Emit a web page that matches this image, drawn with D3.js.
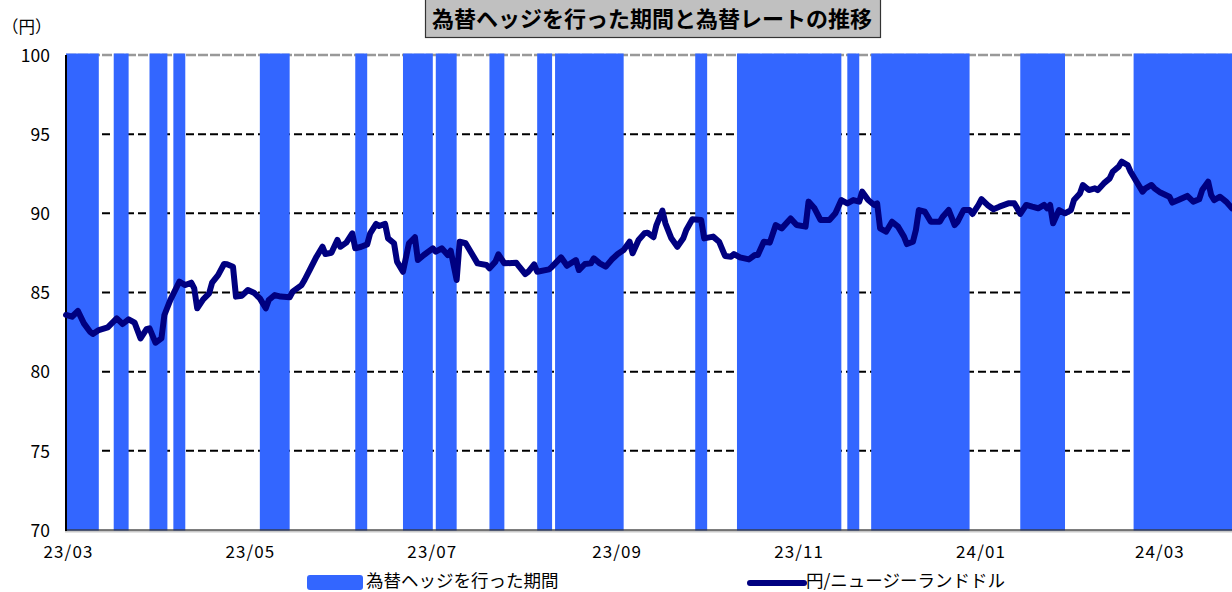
<!DOCTYPE html>
<html>
<head>
<meta charset="utf-8">
<script src="https://cdn.jsdelivr.net/npm/d3@7"></script>
<style>
  html, body { margin: 0; padding: 0; background: #fff; }
  svg { display: block; font-family: "Noto Sans CJK JP", "Noto Sans", sans-serif; }
</style>
</head>
<body>
<svg id="chart" width="1232" height="592"></svg>
<script>
// ---------------- data ----------------
const chartTitle = "為替ヘッジを行った期間と為替レートの推移";
const unitLabel = "（円）";
const hedgeLegend = "為替ヘッジを行った期間";
const rateLegend = "円/ニュージーランドドル";

const yTicks = [70, 75, 80, 85, 90, 95, 100];
const xTickDates = ["2023-03-01", "2023-05-01", "2023-07-01", "2023-09-01", "2023-11-01", "2024-01-01", "2024-03-01"];
const xTickLabels = ["23/03", "23/05", "23/07", "23/09", "23/11", "24/01", "24/03"];

// hedged periods (start / end)
const hedgeStarts = ["2023-03-01", "2023-03-17", "2023-03-29", "2023-04-06", "2023-05-05", "2023-06-06", "2023-06-22", "2023-07-03", "2023-07-21", "2023-08-06", "2023-08-12", "2023-09-28", "2023-10-12", "2023-11-18", "2023-11-26", "2024-01-15", "2024-02-22"];
const hedgeEnds   = ["2023-03-12", "2023-03-22", "2023-04-04", "2023-04-10", "2023-05-15", "2023-06-10", "2023-07-02", "2023-07-10", "2023-07-26", "2023-08-11", "2023-09-04", "2023-10-02", "2023-11-16", "2023-11-22", "2023-12-29", "2024-01-30", "2024-03-26"];

// JPY / NZD rate
const rateDates = [
"2023-03-01","2023-03-03","2023-03-05","2023-03-07","2023-03-09","2023-03-10","2023-03-12","2023-03-15","2023-03-18","2023-03-20",
"2023-03-22","2023-03-24","2023-03-26","2023-03-28","2023-03-29","2023-03-31","2023-04-02","2023-04-03","2023-04-05","2023-04-08",
"2023-04-10","2023-04-12","2023-04-13","2023-04-14","2023-04-16","2023-04-18","2023-04-19","2023-04-21","2023-04-23","2023-04-24",
"2023-04-26","2023-04-27","2023-04-29","2023-05-01","2023-05-03","2023-05-05","2023-05-07","2023-05-08","2023-05-10","2023-05-12",
"2023-05-15","2023-05-16","2023-05-19","2023-05-20","2023-05-22","2023-05-24","2023-05-26","2023-05-27","2023-05-29","2023-05-31",
"2023-06-01","2023-06-03","2023-06-05","2023-06-06","2023-06-08","2023-06-10","2023-06-11","2023-06-13","2023-06-14","2023-06-16",
"2023-06-17","2023-06-19","2023-06-20","2023-06-22","2023-06-24","2023-06-26","2023-06-27","2023-06-29","2023-07-02","2023-07-03",
"2023-07-05","2023-07-07","2023-07-08","2023-07-10","2023-07-11","2023-07-13","2023-07-15","2023-07-17","2023-07-20","2023-07-21",
"2023-07-23","2023-07-24","2023-07-26","2023-07-30","2023-07-31","2023-08-02","2023-08-03","2023-08-05","2023-08-06","2023-08-10",
"2023-08-11","2023-08-14","2023-08-16","2023-08-19","2023-08-20","2023-08-22","2023-08-24","2023-08-25","2023-08-27","2023-08-29",
"2023-08-31","2023-09-02","2023-09-04","2023-09-06","2023-09-07","2023-09-09","2023-09-11","2023-09-12","2023-09-14","2023-09-15",
"2023-09-17","2023-09-18","2023-09-20","2023-09-22","2023-09-24","2023-09-25","2023-09-27","2023-09-30","2023-10-01","2023-10-04",
"2023-10-06","2023-10-08","2023-10-10","2023-10-11","2023-10-13","2023-10-16","2023-10-18","2023-10-19","2023-10-21","2023-10-23",
"2023-10-25","2023-10-27","2023-10-30","2023-11-01","2023-11-04","2023-11-05","2023-11-07","2023-11-09","2023-11-12","2023-11-14",
"2023-11-16","2023-11-18","2023-11-20","2023-11-22","2023-11-23","2023-11-25","2023-11-27","2023-11-28","2023-11-29","2023-12-01",
"2023-12-03","2023-12-05","2023-12-07","2023-12-08","2023-12-10","2023-12-11","2023-12-12","2023-12-14","2023-12-16","2023-12-19",
"2023-12-20","2023-12-22","2023-12-24","2023-12-25","2023-12-27","2023-12-29","2023-12-30","2024-01-01","2024-01-02","2024-01-04",
"2024-01-06","2024-01-08","2024-01-11","2024-01-13","2024-01-14","2024-01-15","2024-01-17","2024-01-19","2024-01-21","2024-01-23",
"2024-01-24","2024-01-25","2024-01-26","2024-01-28","2024-01-30","2024-02-01","2024-02-02","2024-02-04","2024-02-05","2024-02-07",
"2024-02-09","2024-02-10","2024-02-12","2024-02-14","2024-02-15","2024-02-17","2024-02-18","2024-02-20","2024-02-21","2024-02-23",
"2024-02-25","2024-02-26","2024-02-28","2024-02-29","2024-03-02","2024-03-05","2024-03-06","2024-03-08","2024-03-11","2024-03-13",
"2024-03-15","2024-03-16","2024-03-18","2024-03-19","2024-03-20","2024-03-22","2024-03-24","2024-03-26"
];
const rateValues = [
83.58,83.47,83.83,83.05,82.53,82.38,82.63,82.80,83.37,83.01,
83.31,83.10,82.10,82.68,82.74,81.83,82.10,83.58,84.53,85.68,
85.47,85.62,85.26,84.00,84.57,84.95,85.62,86.10,86.80,86.78,
86.63,84.74,84.80,85.16,84.99,84.63,84.00,84.53,84.84,84.74,
84.70,85.05,85.47,85.79,86.53,87.26,87.89,87.43,87.51,88.32,
87.89,88.15,88.74,87.79,87.89,88.04,88.74,89.33,89.20,89.33,
88.42,88.11,86.95,86.31,88.11,88.49,87.05,87.37,87.79,87.58,
87.79,87.37,87.64,85.79,88.21,88.11,87.48,86.84,86.74,86.53,
86.95,87.41,86.84,86.88,86.63,86.17,86.31,86.78,86.31,86.46,
86.63,87.22,86.69,87.05,86.42,86.80,86.84,87.16,86.84,86.63,
87.08,87.43,87.68,88.21,87.48,88.32,88.74,88.78,88.49,89.26,
90.17,89.37,88.42,87.89,88.42,88.95,89.62,89.58,88.42,88.53,
88.21,87.31,87.26,87.43,87.22,87.09,87.37,87.37,88.21,88.15,
89.26,89.05,89.68,89.26,89.16,90.74,90.32,89.58,89.58,90.00,
90.84,90.63,90.84,90.74,91.37,90.84,90.53,90.63,89.05,88.84,
89.47,89.16,88.53,88.06,88.21,88.95,90.21,90.10,89.47,89.47,
89.79,90.21,89.26,89.47,90.21,90.21,89.96,90.53,90.89,90.53,
90.26,90.42,90.63,90.63,90.32,89.96,90.53,90.42,90.32,90.53,
90.32,90.53,89.37,90.21,90.00,90.21,90.84,91.26,91.79,91.47,
91.58,91.47,91.89,92.21,92.63,92.95,93.26,93.05,92.63,92.00,
91.37,91.58,91.79,91.58,91.31,91.05,90.68,90.84,91.10,90.74,
90.89,91.47,92.00,91.16,90.84,91.05,90.74,90.32
];

// ---------------- drawing ----------------
const parse = d3.timeParse("%Y-%m-%d");
const svg = d3.select("#chart");
const plot = { left: 66, right: 1232, top: 55, bottom: 530 };

const x = d3.scaleTime()
  .domain([parse("2023-03-01"), parse("2024-03-26")])
  .range([plot.left, plot.right]);
const y = d3.scaleLinear().domain([70, 100]).range([plot.bottom, plot.top]);

const blue = "#3366FF";
const navy = "#000080";
const font = '"Noto Sans CJK JP", "Noto Sans", sans-serif';

// gridlines (behind bands)
const grid = svg.append("g");
grid.selectAll("line.grid")
  .data(yTicks.filter(v => v > 70 && v < 100))
  .join("line")
  .attr("x1", plot.left).attr("x2", plot.right)
  .attr("y1", d => y(d)).attr("y2", d => y(d))
  .attr("stroke", "#000").attr("stroke-width", 2)
  .attr("stroke-dasharray", "8,4");
grid.append("line")
  .attr("x1", plot.left).attr("x2", plot.right)
  .attr("y1", y(100)).attr("y2", y(100))
  .attr("stroke", "#999").attr("stroke-width", 2.5)
  .attr("stroke-dasharray", "10,2");

// hedge bands
const bands = hedgeStarts.map((s, i) => ({ start: parse(s), end: parse(hedgeEnds[i]) }));
svg.append("g").selectAll("rect")
  .data(bands)
  .join("rect")
  .attr("x", d => x(d.start))
  .attr("width", d => Math.max(1, x(d.end) - x(d.start)))
  .attr("y", y(100) - 1.5)
  .attr("height", y(70) - y(100) + 3)
  .attr("fill", blue);

// axes lines
svg.append("line")
  .attr("x1", plot.left - 1).attr("x2", plot.right)
  .attr("y1", plot.bottom + 1.5).attr("y2", plot.bottom + 1.5)
  .attr("stroke", "#c8c8c8").attr("stroke-width", 2);
svg.append("line")
  .attr("x1", plot.left - 1).attr("x2", plot.right)
  .attr("y1", plot.bottom).attr("y2", plot.bottom)
  .attr("stroke", "#333").attr("stroke-width", 1.5).attr("stroke-opacity", 0.85);
svg.append("line")
  .attr("x1", plot.left).attr("x2", plot.left)
  .attr("y1", plot.top).attr("y2", plot.bottom + 1)
  .attr("stroke", "#000").attr("stroke-width", 2);

// y axis labels
const yAxis = d3.axisLeft(y).tickValues(yTicks).tickSize(0).tickPadding(0).tickFormat(d3.format("d"));
const gy = svg.append("g").attr("transform", `translate(${plot.left - 16},0)`).call(yAxis);
gy.select(".domain").remove();
gy.selectAll("text")
  .attr("font-family", font).attr("font-size", 17.5).attr("fill", "#000")
  .attr("dy", "0.36em");

// x axis labels
const xAxis = d3.axisBottom(x)
  .tickValues(xTickDates.map(parse))
  .tickSize(0).tickPadding(0)
  .tickFormat((d, i) => xTickLabels[i]);
const gx = svg.append("g").attr("transform", `translate(2,${plot.bottom})`).call(xAxis);
gx.select(".domain").remove();
gx.selectAll("text")
  .attr("font-family", font).attr("font-size", 17).attr("fill", "#000")
  .attr("letter-spacing", "1.1px")
  .attr("dy", null).attr("y", 28);

// rate line
const pts = rateDates.map((d, i) => ({ date: parse(d), value: rateValues[i] }));
const lineGen = d3.line().x(d => x(d.date)).y(d => y(d.value));
svg.append("path")
  .datum(pts)
  .attr("d", lineGen)
  .attr("fill", "none")
  .attr("stroke", navy)
  .attr("stroke-width", 6)
  .attr("stroke-linejoin", "round")
  .attr("stroke-linecap", "round");

// unit label
svg.append("text")
  .attr("x", 2).attr("y", 33)
  .attr("font-family", font).attr("font-size", 16.5).attr("fill", "#000")
  .text(unitLabel);

// title box
svg.append("rect")
  .attr("x", 425.5).attr("y", -1).attr("width", 455).attr("height", 38.5)
  .attr("fill", "#C0C0C0").attr("stroke", "#333").attr("stroke-width", 1.2);
svg.append("text")
  .attr("x", 652).attr("y", 27)
  .attr("text-anchor", "middle")
  .attr("font-family", font).attr("font-size", 22).attr("font-weight", "bold").attr("fill", "#000")
  .text(chartTitle);

// legend
const lg = svg.append("g");
lg.append("rect")
  .attr("x", 307).attr("y", 575).attr("width", 56).attr("height", 15).attr("rx", 3)
  .attr("fill", blue);
lg.append("text")
  .attr("x", 366).attr("y", 587)
  .attr("font-family", font).attr("font-size", 17.5).attr("fill", "#000")
  .text(hedgeLegend);
lg.append("line")
  .attr("x1", 750).attr("x2", 804).attr("y1", 583).attr("y2", 583)
  .attr("stroke", navy).attr("stroke-width", 6).attr("stroke-linecap", "round");
lg.append("text")
  .attr("x", 806).attr("y", 587)
  .attr("font-family", font).attr("font-size", 17.5).attr("fill", "#000")
  .text(rateLegend);
</script>
</body>
</html>
